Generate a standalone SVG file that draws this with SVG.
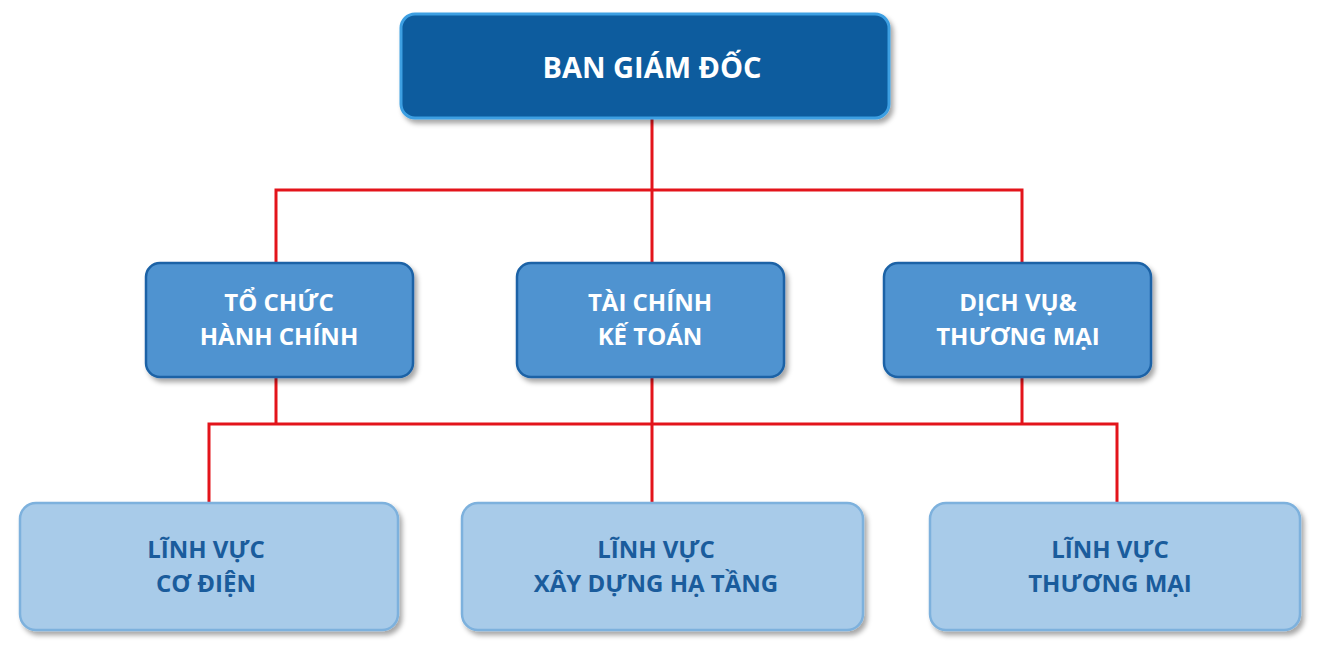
<svg xmlns="http://www.w3.org/2000/svg" width="1344" height="661" viewBox="0 0 1344 661">
<defs>
<filter id="sh" x="-10%" y="-10%" width="125%" height="130%">
<feDropShadow dx="3" dy="4" stdDeviation="2.5" flood-color="#000" flood-opacity="0.35"/>
</filter>
<style>
.top{fill:#0b5b9e;stroke:#3d9fe2;stroke-width:3;}
.mid{fill:#4f93d0;stroke:#1c62a6;stroke-width:2.5;}
.bot{fill:#a8cbe9;stroke:#7db1dd;stroke-width:2.5;}
.t{font-family:"Open Sans","Noto Sans",sans-serif;font-weight:bold;text-anchor:middle;}
.tw{fill:#ffffff;}
.tb{fill:#1a5c9c;}
.c{stroke:#e3141b;stroke-width:3;fill:none;}
</style>
</defs>
<rect width="1344" height="661" fill="#ffffff"/>
<g id="connectors">
<path class="c" d="M652 118 V190 M276 263 V190 H1022 V263 M652 190 V263"/>
<path class="c" d="M276 377 V424 M652 377 V503 M1022 377 V424 M209 503 V424 H1117 V503"/>
</g>
<g id="n-bgd">
<rect class="top" x="401" y="14" width="488" height="104" rx="14" filter="url(#sh)"/>
<text class="t tw" x="652" y="78" font-size="29">BAN GIÁM ĐỐC</text>
</g>
<g id="n-tchc">
<rect class="mid" x="146" y="263" width="267" height="114" rx="14" filter="url(#sh)"/>
<text class="t tw" x="279" y="311" font-size="24">TỔ CHỨC</text>
<text class="t tw" x="279" y="345" font-size="24">HÀNH CHÍNH</text>
</g>
<g id="n-tckt">
<rect class="mid" x="517" y="263" width="267" height="114" rx="14" filter="url(#sh)"/>
<text class="t tw" x="650" y="311" font-size="24">TÀI CHÍNH</text>
<text class="t tw" x="650" y="345" font-size="24">KẾ TOÁN</text>
</g>
<g id="n-dvtm">
<rect class="mid" x="884" y="263" width="267" height="114" rx="14" filter="url(#sh)"/>
<text class="t tw" x="1018" y="311" font-size="24">DỊCH VỤ&amp;</text>
<text class="t tw" x="1018" y="345" font-size="24">THƯƠNG MẠI</text>
</g>
<g id="n-lvcd">
<rect class="bot" x="20" y="503" width="378" height="127" rx="16" filter="url(#sh)"/>
<text class="t tb" x="206" y="558" font-size="24">LĨNH VỰC</text>
<text class="t tb" x="206" y="592" font-size="24">CƠ ĐIỆN</text>
</g>
<g id="n-lvxd">
<rect class="bot" x="462" y="503" width="401" height="127" rx="16" filter="url(#sh)"/>
<text class="t tb" x="656" y="558" font-size="24">LĨNH VỰC</text>
<text class="t tb" x="656" y="592" font-size="24">XÂY DỰNG HẠ TẦNG</text>
</g>
<g id="n-lvtm">
<rect class="bot" x="930" y="503" width="370" height="127" rx="16" filter="url(#sh)"/>
<text class="t tb" x="1110" y="558" font-size="24">LĨNH VỰC</text>
<text class="t tb" x="1110" y="592" font-size="24">THƯƠNG MẠI</text>
</g>
</svg>
